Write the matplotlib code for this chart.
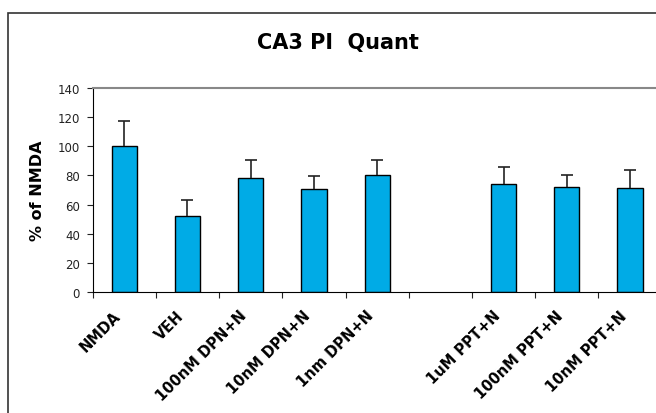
import numpy as np
import matplotlib
matplotlib.use("Agg")
import matplotlib.pyplot as plt
from matplotlib.patches import Rectangle
from matplotlib.transforms import ScaledTranslation

# data (one empty slot between the DPN and PPT groups)
categories = ["NMDA", "VEH", "100nM DPN+N", "10nM DPN+N", "1nm DPN+N", "",
              "1uM PPT+N", "100nM PPT+N", "10nM PPT+N"]
means = [100, 52.5, 78, 70.5, 80, None, 74, 72, 71.5]
errors = [17.5, 10.5, 12.7, 9.1, 10.4, None, 11.7, 8.1, 12.4]
y_ticks = [0, 20, 40, 60, 80, 100, 120, 140]

plt.rcParams['font.family'] = ['DejaVu Sans']

W, H = 656, 414
fig = plt.figure(figsize=(W / 100, H / 100), dpi=100)

# plot area runs a bit past the right edge of the picture, like the original
x0, x1, y_top, y_bot = 92.6, 661.7, 89, 293
ax = fig.add_axes([x0 / W, (H - y_bot) / H, (x1 - x0) / W, (y_bot - y_top) / H])

# outer chart border (clipped at right and bottom in the reference)
fig.patches.append(Rectangle((8 / W, -0.5), 2, (H - 14) / H + 0.5,
                             transform=fig.transFigure, fill=False,
                             edgecolor='#333333', linewidth=1.2))

idx = [i for i, m in enumerate(means) if m is not None]
pos = np.array(idx) + 0.5
vals = [means[i] for i in idx]
errs = [errors[i] for i in idx]

ax.bar(pos, vals, width=0.4, color='#00ABE6', edgecolor='black', linewidth=1.0, zorder=2)
eb = ax.errorbar(pos, vals, yerr=[np.zeros(len(errs)), errs], fmt='none',
                 ecolor='#222222', elinewidth=1.2, capsize=4.5, capthick=1.2, zorder=3)
# only the upper whisker has a cap
eb[1][0].set_visible(False)

ax.set_xlim(0, len(categories))
ax.set_ylim(0, 140)
ax.set_yticks(y_ticks)
ax.tick_params(axis='y', direction='out', length=4, width=0.8, color='#222222',
               labelsize=8.5, pad=5, labelcolor='#222222')

# category boundary ticks, labels centred under the bars
ax.set_xticks(np.arange(len(categories) + 1), minor=True)
ax.set_xticks(np.arange(len(categories)) + 0.5)
ax.set_xticklabels(categories, rotation=45, ha='right', va='center',
                   rotation_mode='anchor', fontweight='bold', fontsize=10.5)
ax.tick_params(axis='x', which='major', length=0, pad=15)
ax.tick_params(axis='x', which='minor', direction='out', length=4, width=0.8, color='#222222')
shift = ScaledTranslation(-6 / 100, 0, fig.dpi_scale_trans)
for lab in ax.get_xticklabels():
    lab.set_transform(lab.get_transform() + shift)

ax.spines['left'].set_color('black')
ax.spines['bottom'].set_color('black')
ax.spines['top'].set_color('#888888')
ax.spines['top'].set_linewidth(1.5)
ax.spines['right'].set_visible(False)

fig.text(338 / W, 1 - 43 / H, "CA3 PI  Quant", ha='center', va='center',
         fontsize=15, fontweight='bold')
fig.text(37 / W, 1 - 191 / H, "% of NMDA", ha='center', va='center',
         rotation=90, fontsize=11.5, fontweight='bold')

fig.savefig("out.png", dpi=100)
